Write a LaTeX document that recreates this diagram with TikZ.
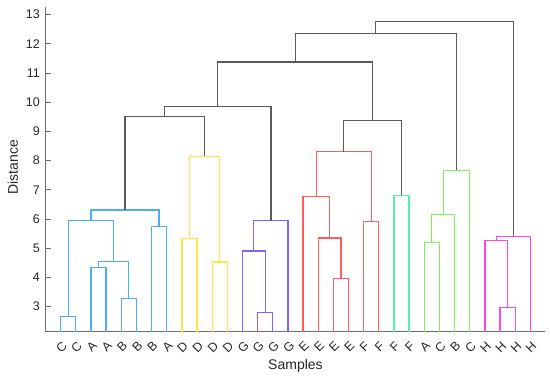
\documentclass[tikz,border=0pt]{standalone}
\usepackage{fontspec}
\setmainfont{Liberation Sans}
\definecolor{cblue}{HTML}{4AAFF2}
\definecolor{cyel}{HTML}{FFE545}
\definecolor{cpur}{HTML}{8462FF}
\definecolor{cred}{HTML}{FF5C5C}
\definecolor{cteal}{HTML}{55F0B0}
\definecolor{cgreen}{HTML}{7EF24E}
\definecolor{cmag}{HTML}{FF45E6}
\definecolor{clink}{HTML}{5A5A5A}
\definecolor{caxis}{HTML}{6E6E6E}
\definecolor{ctext}{HTML}{262626}
\begin{document}
\begin{tikzpicture}[x=15.15pt,y=29.2pt,
  link/.style={line width=1.3pt},
  axisline/.style={line width=1pt,draw=caxis},
  ticklab/.style={anchor=east,inner sep=0pt,text=ctext,font=\fontsize{12.5}{14}\selectfont},
  leaflab/.style={inner sep=0pt,rotate=45,text=ctext,font=\fontsize{12.5}{14}\selectfont},
  axislab/.style={inner sep=0pt,text=ctext,font=\fontsize{14}{16}\selectfont}]
\useasboundingbox (-3.0033,0.3527) rectangle (33.30,13.503);
% axes
\coordinate (atop) at (0,13.25);
\coordinate (aorig) at (0,2.144);
\coordinate (aright) at (33,2.144);
\draw[axisline] (atop) -- (aorig) -- (aright);
\foreach \v in {3,...,13}{
  \coordinate (tk\v) at (0,\v);
  \draw[axisline] (tk\v) -- ++(5pt,0);
  \node[ticklab] (t\v) at (-0.36,\v) {\v};
}
\node[axislab,rotate=90] (ylab) at (-2.15,7.78) {Distance};
\node[axislab] (xlab) at (16.5,0.98) {Samples};
% leaves
\foreach \i/\l in {1/C,2/C,3/A,4/A,5/B,6/B,7/B,8/A,9/D,10/D,11/D,12/D,13/G,14/G,15/G,16/G,17/E,18/E,19/E,20/E,21/F,22/F,23/F,24/F,25/A,26/C,27/B,28/C,29/H,30/H,31/H,32/H}{
  \coordinate (l\i) at (\i,2.144);
  \node[leaflab] (n\i) at (\i+0.05,1.62) {\l};
}
% merge points
\coordinate (cc) at (1.5,2.66);
\coordinate (aa) at (3.5,4.34);
\coordinate (bb) at (5.5,3.29);
\coordinate (aabb) at (4.5,4.54);
\coordinate (ccab) at (3,5.95);
\coordinate (ba) at (7.5,5.75);
\coordinate (blue) at (5.25,6.31);
\coordinate (dd1) at (9.5,5.33);
\coordinate (dd2) at (11.5,4.53);
\coordinate (yel) at (10.5,8.15);
\coordinate (by) at (7.875,9.51);
\coordinate (gg1) at (14.5,2.81);
\coordinate (gg2) at (13.75,4.91);
\coordinate (pur) at (14.875,5.95);
\coordinate (byp) at (11.375,9.85);
\coordinate (ee1) at (19.5,3.97);
\coordinate (ee2) at (18.75,5.35);
\coordinate (ee3) at (17.875,6.77);
\coordinate (ff1) at (21.5,5.91);
\coordinate (red) at (19.6875,8.31);
\coordinate (teal) at (23.5,6.81);
\coordinate (rt) at (21.59375,9.37);
\coordinate (left) at (16.484,11.38);
\coordinate (ac) at (25.5,5.19);
\coordinate (acb) at (26.25,6.15);
\coordinate (green) at (27.125,7.67);
\coordinate (lg) at (21.80,12.35);
\coordinate (hh1) at (30.5,2.97);
\coordinate (hh2) at (29.75,5.27);
\coordinate (mag) at (30.875,5.41);
\coordinate (topm) at (26.34,12.76);
% blue cluster
\begin{scope}[link,draw=cblue]
\draw (l1) |- (cc) -| (l2);
\draw (l3) |- (aa) -| (l4);
\draw (l5) |- (bb) -| (l6);
\draw (aa) |- (aabb) -| (bb);
\draw (cc) |- (ccab) -| (aabb);
\draw (l7) |- (ba) -| (l8);
\draw (ccab) |- (blue) -| (ba);
\end{scope}
% yellow cluster
\begin{scope}[link,draw=cyel]
\draw (l9) |- (dd1) -| (l10);
\draw (l11) |- (dd2) -| (l12);
\draw (dd1) |- (yel) -| (dd2);
\end{scope}
% purple cluster
\begin{scope}[link,draw=cpur]
\draw (l14) |- (gg1) -| (l15);
\draw (l13) |- (gg2) -| (gg1);
\draw (gg2) |- (pur) -| (l16);
\end{scope}
% red cluster
\begin{scope}[link,draw=cred]
\draw (l19) |- (ee1) -| (l20);
\draw (l18) |- (ee2) -| (ee1);
\draw (l17) |- (ee3) -| (ee2);
\draw (l21) |- (ff1) -| (l22);
\draw (ee3) |- (red) -| (ff1);
\end{scope}
% teal cluster
\draw[link,draw=cteal] (l23) |- (teal) -| (l24);
% green cluster
\begin{scope}[link,draw=cgreen]
\draw (l25) |- (ac) -| (l26);
\draw (ac) |- (acb) -| (l27);
\draw (acb) |- (green) -| (l28);
\end{scope}
% magenta cluster
\begin{scope}[link,draw=cmag]
\draw (l30) |- (hh1) -| (l31);
\draw (l29) |- (hh2) -| (hh1);
\draw (hh2) |- (mag) -| (l32);
\end{scope}
% upper links
\begin{scope}[link,draw=clink]
\draw (blue) |- (by) -| (yel);
\draw (by) |- (byp) -| (pur);
\draw (red) |- (rt) -| (teal);
\draw (byp) |- (left) -| (rt);
\draw (left) |- (lg) -| (green);
\draw (lg) |- (topm) -| (mag);
\end{scope}
\end{tikzpicture}
\end{document}
